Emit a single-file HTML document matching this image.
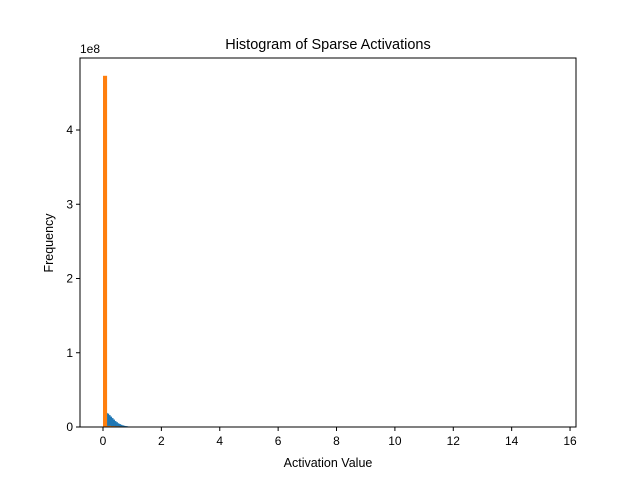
<!DOCTYPE html>
<html><head><meta charset="utf-8"><style>body{margin:0;background:#fff}svg{font-family:"Liberation Sans",sans-serif}</style></head>
<body>
<svg id="c" width="640" height="480"></svg>
<script>
const blueEdges=[0.1,0.15,0.2,0.25,0.3,0.35,0.4,0.45,0.5,0.55,0.6,0.65,0.7,0.75,0.8,0.85,0.9,0.95,1.0,1.05,1.1,1.15,1.2];
const blueVals=[1.9e7,1.8e7,1.6e7,1.4e7,1.2e7,1.0e7,8e6,6.5e6,5e6,4e6,3e6,2.3e6,1.7e6,1.3e6,1e6,7e5,5e5,4e5,3e5,2e5,1.5e5,1e5,5e4];
const orangeEdges=[0,0.14,0.28,0.42,0.56,0.7,0.84,0.98,1.12];
const orangeVals=[4.73e8,1.5e6,1.2e6,1e6,8e5,6e5,5e5,4e5];
const xTicks=[0,2,4,6,8,10,12,14,16];
const yTicks=[0,1,2,3,4];
const L=80,R=576,T=58,B=427;
const X=v=>103+v*29.19, Y=v=>B-v/1e8*74.25;
const s=document.getElementById('c');const NS='http://www.w3.org/2000/svg';
function el(t,a,txt){const e=document.createElementNS(NS,t);for(const k in a)e.setAttribute(k,a[k]);if(txt!=null)e.textContent=txt;s.appendChild(e);return e;}
blueVals.forEach((v,i)=>{const x0=X(blueEdges[i]),w=X(0.05)-X(0);
const r=el('rect',{x:x0,y:Y(v),width:w+0.3,height:B-Y(v),fill:'#1f77b4'});

});
orangeVals.forEach((v,i)=>{const x0=X(orangeEdges[i]),w=X(orangeEdges[i+1])-x0;
const r=el('rect',{x:x0,y:Y(v),width:w,height:B-Y(v),fill:'#ff7f0e'});

});
el('rect',{x:L,y:T,width:R-L,height:B-T,fill:'none',stroke:'#000','stroke-width':1});
xTicks.forEach(t=>{el('line',{x1:X(t),x2:X(t),y1:B,y2:B+4,stroke:'#000'});
const tx=el('text',{x:X(t),y:B+18,'text-anchor':'middle','font-size':12},t);

});
yTicks.forEach(t=>{el('line',{x1:L-4,x2:L,y1:Y(t*1e8),y2:Y(t*1e8),stroke:'#000'});
const tx=el('text',{x:L-7,y:Y(t*1e8)+4,'text-anchor':'end','font-size':12},t);

});
</script>
<svg style="position:absolute;left:0;top:0" width="640" height="480">
<text x="80" y="53" font-size="12">1e8</text>
<text x="328" y="49" text-anchor="middle" font-size="14.5">Histogram of Sparse Activations</text>
<text x="328" y="467" text-anchor="middle" font-size="12.5">Activation Value</text>
<text transform="translate(53,243) rotate(-90)" text-anchor="middle" font-size="12.5">Frequency</text>
</svg>
</body></html>
